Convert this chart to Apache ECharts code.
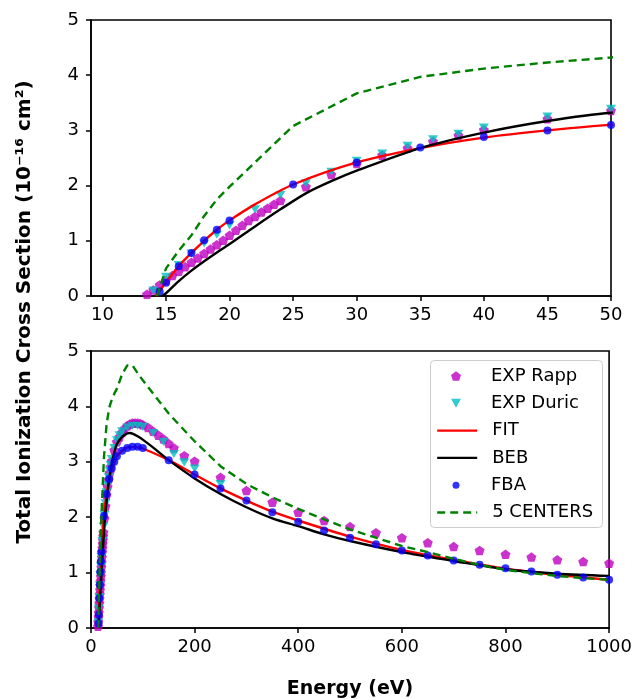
<!DOCTYPE html>
<html><head><meta charset="utf-8">
<script src="https://cdn.jsdelivr.net/npm/echarts@6/dist/echarts.min.js"></script>
<style>html,body{margin:0;padding:0;background:#fff}#c{width:635px;height:699px}</style>
</head><body><div id="c"></div>
<script>
// ---- data ----
const rappE = [13.5,14,14.5,15,15.5,16,16.5,17,17.5,18,18.5,19,19.5,20,20.5,21,21.5,22,22.5,23,23.5,24,26,28,30,32,34,36,38,40,45,50,55,60,65,70,75,80,85,90,95,100,110,120,130,140,150,160,180,200,250,300,350,400,450,500,550,600,650,700,750,800,850,900,950,1000];
const rappV = [0.03,0.11,0.20,0.28,0.37,0.45,0.53,0.61,0.69,0.77,0.85,0.93,1.01,1.10,1.19,1.28,1.37,1.44,1.52,1.59,1.66,1.73,1.98,2.20,2.40,2.55,2.68,2.80,2.91,3.01,3.21,3.36,3.45,3.53,3.60,3.65,3.68,3.70,3.70,3.70,3.69,3.67,3.62,3.55,3.48,3.41,3.33,3.25,3.11,3.01,2.72,2.48,2.27,2.09,1.94,1.83,1.72,1.63,1.54,1.47,1.40,1.33,1.28,1.23,1.20,1.17];
const duricE = [14,15,16,17,18,19,20,22,24,26,28,30,32,34,36,38,40,45,50,55,60,70,80,90,100,120,140,160,180,200,250];
const duricV = [0.10,0.35,0.56,0.77,0.95,1.11,1.28,1.57,1.83,2.04,2.25,2.45,2.58,2.72,2.84,2.94,3.05,3.25,3.39,3.48,3.55,3.62,3.65,3.65,3.63,3.52,3.36,3.14,2.99,2.88,2.60];
const fitE = [14.2,14.5,15,16,17,18,19,20,22,25,30,35,40,45,50,60,70,80,90,100,150,200,250,300,350,400,500,600,700,800,900,1000];
const fitV = [0.0,0.10,0.25,0.54,0.78,1.00,1.20,1.37,1.66,2.02,2.42,2.68,2.87,3.00,3.10,3.20,3.26,3.27,3.26,3.24,3.03,2.77,2.52,2.30,2.10,1.94,1.65,1.41,1.23,1.07,0.96,0.87];
const bebE = [14.7,15,16,17,18,19,20,22,24,26,28,30,35,40,45,50,60,70,75,80,90,100,125,150,200,250,300,350,400,450,500,600,700,800,900,1000];
const bebV = [0.0,0.05,0.27,0.46,0.63,0.79,0.94,1.26,1.57,1.86,2.08,2.27,2.68,2.96,3.17,3.32,3.45,3.51,3.52,3.51,3.46,3.40,3.22,3.03,2.70,2.42,2.18,1.98,1.84,1.69,1.57,1.37,1.21,1.06,0.98,0.94];
const fbaE = [14.5,15,16,17,18,19,20,25,30,35,40,45,50,60,70,80,90,100,150,200,250,300,350,400,450,500,550,600,650,700,750,800,850,900,950,1000];
const fbaV = [0.08,0.24,0.54,0.78,1.01,1.20,1.37,2.02,2.42,2.69,2.88,3.00,3.10,3.20,3.25,3.27,3.27,3.25,3.03,2.77,2.52,2.30,2.09,1.92,1.76,1.63,1.51,1.40,1.31,1.22,1.14,1.08,1.02,0.96,0.91,0.87];
const cenE = [14.3,15,16,17,18,19,20,25,30,35,40,45,50,60,70,80,90,100,150,200,250,300,350,400,450,500,550,600,650,700,750,800,850,900,950,1000];
const cenV = [0.0,0.50,0.82,1.10,1.45,1.75,1.98,3.08,3.67,3.97,4.12,4.23,4.32,4.58,4.74,4.74,4.60,4.47,3.87,3.37,2.92,2.60,2.36,2.15,1.96,1.78,1.63,1.48,1.37,1.25,1.14,1.05,0.99,0.94,0.90,0.87];
const topTicks = [10,15,20,25,30,35,40,45,50];
const legendNames = ['EXP Rapp','EXP Duric','FIT','BEB','FBA','5 CENTERS'];

const pairs = (xs, ys) => xs.map((x, i) => [x, ys[i]]);
const FONT = 'DejaVu Sans';
const pent = 'path://M0,-1L0.951,-0.309L0.588,0.809L-0.588,0.809L-0.951,-0.309Z';
const triDown = 'path://M0,0L10,0L5,9Z';
const COL = {rapp: '#bf00bf', duric: '#00bfbf', fit: '#ff0000', beb: '#000000', fba: '#0000ff', cen: '#008000'};
const DASH = [8, 5];
const LW = 2.4;

function axisCommon() {
  return {
    axisLine: {show: true, onZero: false, lineStyle: {color: '#000', width: 1.6}},
    axisTick: {show: true, inside: false, length: 5, lineStyle: {color: '#000', width: 1.5}},
    axisLabel: {color: '#000', fontFamily: FONT, fontSize: 18, formatter: v => String(v)},
    splitLine: {show: false}
  };
}
const xAxes = [0, 1].map(i => {
  const a = axisCommon();
  a.type = 'value'; a.gridIndex = i;
  if (i === 0) {
    a.min = 9.1; a.max = 50;
    a.axisTick.customValues = topTicks; a.axisLabel.customValues = topTicks;
  } else {
    a.min = 0; a.max = 1000; a.interval = 200;
  }
  a.axisLabel.margin = 10;
  return a;
});
const yAxes = [0, 1].map(i => {
  const a = axisCommon();
  a.type = 'value'; a.gridIndex = i; a.min = 0; a.max = 5; a.interval = 1;
  a.axisLabel.margin = 12;
  return a;
});

function seriesFor(gi) {
  const base = {xAxisIndex: gi, yAxisIndex: gi, clip: true, animation: false};
  return [
    Object.assign({}, base, {name: legendNames[0], type: 'scatter', data: pairs(rappE, rappV), symbol: pent, symbolKeepAspect: true, symbolSize: 10, itemStyle: {color: COL.rapp}, z: 2}),
    Object.assign({}, base, {name: legendNames[1], type: 'scatter', data: pairs(duricE, duricV), symbol: triDown, symbolKeepAspect: true, symbolSize: [10, 9], itemStyle: {color: COL.duric}, z: 3}),
    Object.assign({}, base, {name: legendNames[2], type: 'line', data: pairs(fitE, fitV), showSymbol: false, symbol: 'none', smooth: 0.3, lineStyle: {color: COL.fit, width: LW}, itemStyle: {color: COL.fit}, z: 4}),
    Object.assign({}, base, {name: legendNames[3], type: 'line', data: pairs(bebE, bebV), showSymbol: false, symbol: 'none', smooth: 0.3, lineStyle: {color: COL.beb, width: LW}, itemStyle: {color: COL.beb}, z: 5}),
    Object.assign({}, base, {name: legendNames[4], type: 'scatter', data: pairs(fbaE, fbaV), symbol: 'circle', symbolSize: 8, itemStyle: {color: COL.fba}, z: 6}),
    Object.assign({}, base, {name: legendNames[5], type: 'line', data: pairs(cenE, cenV), showSymbol: false, symbol: 'none', lineStyle: {color: COL.cen, width: LW, type: DASH}, itemStyle: {color: COL.cen}, z: 7})
  ];
}

// one legend component per row so each row can have its own icon size
const rowCenters = [376, 403.3, 430.6, 457.9, 485.2, 512.5];
const rowSpec = [
  {w: 10, h: 10, line: false, icon: pent},
  {w: 10, h: 9, line: false, icon: triDown},
  {w: 40, h: 14, line: true, color: COL.fit, type: 'solid'},
  {w: 40, h: 14, line: true, color: COL.beb, type: 'solid'},
  {w: 7, h: 7, line: false, icon: 'circle'},
  {w: 40, h: 14, line: true, color: COL.cen, type: DASH}
];
const iconCenterX = 456, textX = 491;
const legends = legendNames.map((n, i) => {
  const s = rowSpec[i];
  const left = s.line ? 436 : iconCenterX - s.w / 2;
  const item = {name: n};
  if (s.line) {
    item.itemStyle = {opacity: 0, color: 'rgba(0,0,0,0)', borderWidth: 0};
    item.lineStyle = {color: s.color, width: LW, type: s.type, opacity: 1};
  } else {
    item.icon = s.icon;
  }
  const gap = textX - (left + s.w) - 5;
  return {
    data: [item], orient: 'vertical', left: left, top: rowCenters[i] - 9,
    padding: 0, itemWidth: s.w, itemHeight: s.h,
    textStyle: {fontFamily: FONT, fontSize: 18, color: '#000', lineHeight: 18, padding: [0, 0, 0, gap]},
    selectedMode: false, z: 11
  };
});

const chart = echarts.init(document.getElementById('c'), null, {renderer: 'canvas'});
chart.setOption({
  backgroundColor: '#fff',
  animation: false,
  grid: [
    {left: 91, right: 24, top: 20, height: 276, show: true, borderColor: '#000', borderWidth: 1.6},
    {left: 91, right: 24, top: 351, height: 277, show: true, borderColor: '#000', borderWidth: 1.6}
  ],
  xAxis: xAxes,
  yAxis: yAxes,
  legend: legends,
  graphic: [
    {type: 'rect', z: 10, shape: {x: 430.5, y: 360.5, width: 172, height: 167, r: 4}, style: {fill: 'rgba(255,255,255,0.8)', stroke: '#cccccc', lineWidth: 1}},
    {type: 'text', x: 350, y: 689, style: {text: 'Energy (eV)', fontFamily: FONT, fontSize: 19, fontWeight: 'bold', fill: '#000', align: 'center', verticalAlign: 'middle', textAlign: 'center', textVerticalAlign: 'middle'}},
    {type: 'text', x: 25, y: 312, rotation: Math.PI / 2, style: {text: 'Total Ionization Cross Section (10\u207B\u00B9\u2076 cm\u00B2)', fontFamily: FONT, fontSize: 20, fontWeight: 'bold', fill: '#000', align: 'center', verticalAlign: 'middle', textAlign: 'center', textVerticalAlign: 'middle'}}
  ],
  series: seriesFor(0).concat(seriesFor(1))
});
</script>
</body></html>
